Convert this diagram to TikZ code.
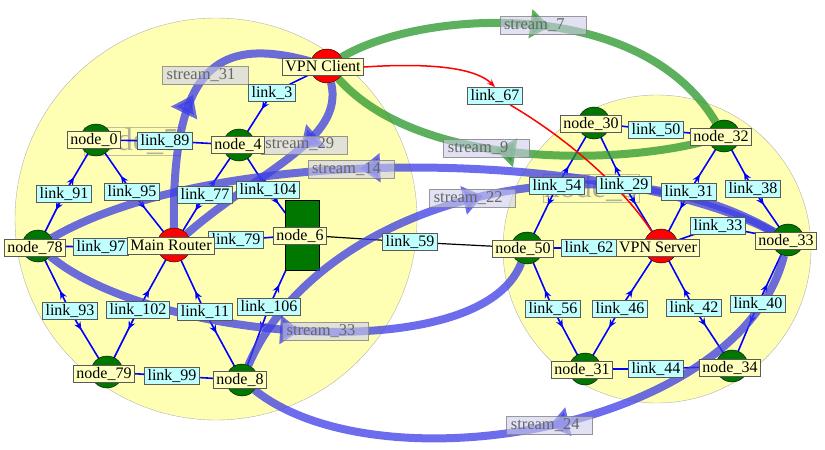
\documentclass[tikz,border=0pt]{standalone}
\usepackage{fontspec}
\setmainfont{Liberation Serif}
\usetikzlibrary{arrows.meta, decorations.markings}

\definecolor{clusterfill}{RGB}{255,255,180}
\definecolor{hostgreen}{RGB}{0,120,0}
\definecolor{lblyellow}{RGB}{255,255,192}
\definecolor{lblcyan}{RGB}{192,255,255}
\definecolor{flowblue}{RGB}{60,60,230}
\definecolor{flowgreen}{RGB}{40,150,40}
\definecolor{flowlblfill}{RGB}{205,205,235}

\pgfdeclarelayer{back}
\pgfdeclarelayer{edges}
\pgfdeclarelayer{circ}
\pgfdeclarelayer{flows}
\pgfsetlayers{back,edges,circ,flows,main}

\tikzset{
    every node/.style={font=\fontsize{16}{19}\selectfont}, % text of all boxes
    cluster/.style={ % big yellow discs
        circle, draw=gray!60, fill=clusterfill, inner sep=0pt
    },
    clusterlbl/.style={
        draw=gray, draw opacity=0.5, text=gray, text opacity=0.6,
        font=\fontsize{32}{34}\selectfont, inner sep=1pt
    },
    host/.style={circle, draw=black, fill=hostgreen, minimum size=32pt, inner sep=0pt},
    router/.style={host, fill=red, minimum size=34pt},
    hostbox/.style={rectangle, draw=black, fill=hostgreen, minimum width=34pt, minimum height=70pt},
    lblbox/.style={ % common look of the small labels
        draw=black!65, line width=0.9pt, inner xsep=3pt, inner ysep=1pt,
        text height=11.5pt, text depth=3.5pt
    },
    nodelbl/.style={lblbox, fill=lblyellow},
    linklbl/.style={lblbox, fill=lblcyan},
    linkedge/.style={ % link box -> node, small tip near the box
        draw=blue, line width=1.6pt, postaction={decorate},
        decoration={markings, mark=at position 0.31 with {\arrow{Stealth[length=8pt,width=7pt]}}}
    },
    plainedge/.style={draw=black, line width=1.2pt},
    redlink/.style={draw=red, line width=1.5pt},
    flow/.style={ % thick stream, big tip at #1
        line width=8pt, draw=flowblue, opacity=0.75, postaction={decorate},
        decoration={markings, mark=at position #1 with {\arrow{Triangle[length=20pt,width=28pt]}}}
    },
    flowlbl/.style={
        draw=gray, line width=0.9pt, fill=flowlblfill, fill opacity=0.6,
        draw opacity=0.8, text opacity=1, text=black!60,
        font=\fontsize{16.5}{19}\selectfont, text width=78pt, align=left,
        inner xsep=4pt, inner ysep=1pt, text height=12pt, text depth=4pt
    }
}

\begin{document}
\begin{tikzpicture}[x=1pt, y=-1pt]
    \useasboundingbox (0,0) rectangle (825,450);
    \begin{pgfonlayer}{back}
        \fill[white] (0,0) rectangle (825,450);
        % clusters
        \node[cluster, minimum size=402pt]  (cl5)    at (216,219) {};
        \node[cluster, minimum size=308pt]  (cl3)    at (657,249) {};
        \node[clusterlbl]                   (cl5lbl) at (132,141) {node\_5};
        \node[clusterlbl]                   (cl3lbl) at (591,188) {node\_3};
    \end{pgfonlayer}

    \begin{pgfonlayer}{circ}
        % linker kreis
        \node[host]     (n0)    at (96,140)  {};
        \node[host]     (n4)    at (239,145) {};
        \node[router]   (vpnc)  at (327,66)  {};
        \node[router]   (mr)    at (174,245) {};
        \node[host]     (n78)   at (38,246)  {};
        \node[host]     (n79)   at (107,372) {};
        \node[host]     (n8)    at (242,380) {};
        \node[hostbox]  (n6)    at (302,235) {};
        % rechter kreis
        \node[host]     (n30)   at (594,123) {};
        \node[host]     (n32)   at (724,136) {};
        \node[host]     (n33)   at (788,240) {};
        \node[router]   (vpns)  at (661,246) {};
        \node[host]     (n50)   at (527,248) {};
        \node[host]     (n31)   at (585,369) {};
        \node[host]     (n34)   at (732,366) {};
    \end{pgfonlayer}

    % link labels
    \node[linklbl]  (l3)    at (272,93)  {link\_3};
    \node[linklbl]  (l89)   at (165,141) {link\_89};
    \node[linklbl]  (l91)   at (64,194)  {link\_91};
    \node[linklbl]  (l95)   at (132,192) {link\_95};
    \node[linklbl]  (l77)   at (205,195) {link\_77};
    \node[linklbl]  (l104)  at (268,190) {link\_104};
    \node[linklbl]  (l97)   at (101,247) {link\_97};
    \node[linklbl]  (l79)   at (236,240) {link\_79};
    \node[linklbl]  (l93)   at (70,311)  {link\_93};
    \node[linklbl]  (l102)  at (138,310) {link\_102};
    \node[linklbl]  (l11)   at (205,312) {link\_11};
    \node[linklbl]  (l106)  at (269,307) {link\_106};
    \node[linklbl]  (l99)   at (172,376) {link\_99};
    \node[linklbl]  (l59)   at (410,242) {link\_59};
    \node[linklbl]  (l67)   at (495,96)  {link\_67};
    \node[linklbl]  (l50)   at (656,130) {link\_50};
    \node[linklbl]  (l54)   at (557,186) {link\_54};
    \node[linklbl]  (l29)   at (624,185) {link\_29};
    \node[linklbl]  (l31)   at (689,192) {link\_31};
    \node[linklbl]  (l38)   at (753,189) {link\_38};
    \node[linklbl]  (l33)   at (718,226) {link\_33};
    \node[linklbl]  (l62)   at (589,248) {link\_62};
    \node[linklbl]  (l56)   at (553,309) {link\_56};
    \node[linklbl]  (l46)   at (620,309) {link\_46};
    \node[linklbl]  (l42)   at (694,308) {link\_42};
    \node[linklbl]  (l40)   at (758,304) {link\_40};
    \node[linklbl]  (l44)   at (656,369) {link\_44};
    % node labels
    \node[nodelbl]  (n0l)   at (94,140)  {node\_0};
    \node[nodelbl]  (n4l)   at (238,145) {node\_4};
    \node[nodelbl]  (vpncl) at (323,67)  {VPN Client};
    \node[nodelbl]  (mrl)   at (171,246) {Main Router};
    \node[nodelbl]  (n78l)  at (35,248)  {node\_78};
    \node[nodelbl]  (n79l)  at (104,374) {node\_79};
    \node[nodelbl]  (n8l)   at (240,380) {node\_8};
    \node[nodelbl]  (n6l)   at (300,236) {node\_6};
    \node[nodelbl]  (n30l)  at (591,124) {node\_30};
    \node[nodelbl]  (n32l)  at (721,137) {node\_32};
    \node[nodelbl]  (n33l)  at (786,241) {node\_33};
    \node[nodelbl]  (vpnsl) at (658,248) {VPN Server};
    \node[nodelbl]  (n50l)  at (523,249) {node\_50};
    \node[nodelbl]  (n31l)  at (582,370) {node\_31};
    \node[nodelbl]  (n34l)  at (730,368) {node\_34};

    \begin{pgfonlayer}{edges}
        \path
            % linker kreis
            (l3.center)   edge[linkedge] (vpnc.center)  edge[linkedge] (n4.center)
            (l89.center)  edge[linkedge] (n0.center)    edge[linkedge] (n4.center)
            (l91.center)  edge[linkedge] (n0.center)    edge[linkedge] (n78.center)
            (l95.center)  edge[linkedge] (n0.center)    edge[linkedge] (mr.center)
            (l77.center)  edge[linkedge] (n4.center)    edge[linkedge] (mr.center)
            (l104.center) edge[linkedge] (n4.center)    edge[linkedge] (n6.center)
            (l97.center)  edge[linkedge] (n78.center)   edge[linkedge] (mr.center)
            (l79.center)  edge[linkedge] (mr.center)    edge[linkedge] (n6.center)
            (l93.center)  edge[linkedge] (n78.center)   edge[linkedge] (n79.center)
            (l102.center) edge[linkedge] (mr.center)    edge[linkedge] (n79.center)
            (l11.center)  edge[linkedge] (mr.center)    edge[linkedge] (n8.center)
            (l106.center) edge[linkedge] (n6.center)    edge[linkedge] (n8.center)
            (l99.center)  edge[linkedge] (n79.center)   edge[linkedge] (n8.center)
            % zwischen den kreisen
            (l59.center)  edge[plainedge] (n6.center)   edge[plainedge] (n50.center)
            % rechter kreis
            (l50.center)  edge[linkedge] (n30.center)   edge[linkedge] (n32.center)
            (l54.center)  edge[linkedge] (n30.center)   edge[linkedge] (n50.center)
            (l29.center)  edge[linkedge] (n30.center)   edge[linkedge] (vpns.center)
            (l31.center)  edge[linkedge] (n32.center)   edge[linkedge] (vpns.center)
            (l38.center)  edge[linkedge] (n32.center)   edge[linkedge] (n33.center)
            (l33.center)  edge[linkedge] (vpns.center)  edge[linkedge] (n33.center)
            (l62.center)  edge[linkedge] (n50.center)   edge[linkedge] (vpns.center)
            (l56.center)  edge[linkedge] (n50.center)   edge[linkedge] (n31.center)
            (l46.center)  edge[linkedge] (vpns.center)  edge[linkedge] (n31.center)
            (l42.center)  edge[linkedge] (vpns.center)  edge[linkedge] (n34.center)
            (l40.center)  edge[linkedge] (n33.center)   edge[linkedge] (n34.center)
            (l44.center)  edge[linkedge] (n31.center)   edge[linkedge] (n34.center)
        ;
    \end{pgfonlayer}

    \begin{pgfonlayer}{flows}
        % streams
        \draw[flow=0.5] (mr) .. controls (172,70) and (215,35)
            .. node[flowlbl, pos=0.5]  (s31) {stream\_31} (vpnc);
        \draw[flow=0.35] (vpnc) .. controls (345,140) and (260,170)
            .. node[flowlbl, pos=0.42] (s29) {stream\_29} (mr);
        \draw[flow=0.52, draw=flowgreen] (vpnc) .. controls (420,10) and (640,-5)
            .. node[flowlbl, pos=0.53] (s7)  {stream\_7} (n32);
        \draw[flow=0.55, draw=flowgreen] (n32) .. controls (620,165) and (420,170)
            .. node[flowlbl, pos=0.58] (s9)  {stream\_9} (vpnc);
        \draw[flow=0.57] (n33) .. controls (620,150) and (220,140)
            .. node[flowlbl, pos=0.58] (s14) {stream\_14} (n78);
        \draw[flow=0.5] (n8) .. controls (320,200) and (600,130)
            .. node[flowlbl, pos=0.5]  (s22) {stream\_22} (n33);
        \draw[flow=0.52] (n78) .. controls (150,340) and (480,370)
            .. node[flowlbl, pos=0.53] (s33) {stream\_33} (n50);
        \draw[flow=0.5] (n33) .. controls (740,430) and (380,490)
            .. node[flowlbl, pos=0.5]  (s24) {stream\_24} (n8);
        % vpn tunnel
        \draw[redlink, -{Stealth[length=8pt,width=6pt]}]
            (vpncl.east) .. controls (440,62) and (478,70) .. (l67.north);
        \draw[redlink] (l67) .. controls (570,140) and (625,190) .. (vpns);
    \end{pgfonlayer}
\end{tikzpicture}
\end{document}
